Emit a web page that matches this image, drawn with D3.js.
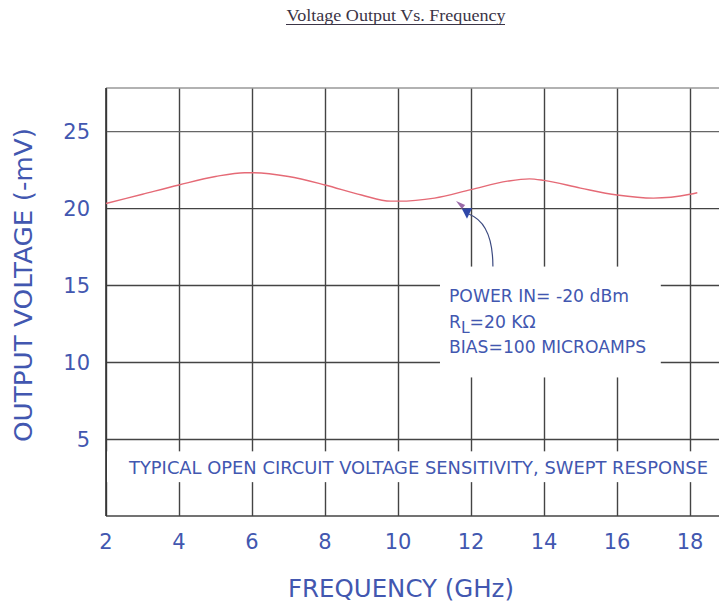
<!DOCTYPE html>
<html><head><meta charset="utf-8">
<script src="https://cdn.jsdelivr.net/npm/d3@7"></script>
<style>body{margin:0;background:#fff}svg{display:block}</style>
</head><body>
<script>
const freqGHz = [2, 3, 4, 5, 5.8, 6, 7, 8, 9, 9.8, 10, 11, 12, 13, 13.6, 14, 15, 16, 17, 18, 18.2];
const voltage = [20.3, 20.9, 21.5, 22.05, 22.3, 22.3, 22.05, 21.5, 20.85, 20.45, 20.45, 20.65, 21.2, 21.75, 21.9, 21.8, 21.3, 20.85, 20.65, 20.9, 21.0];
const xTicks = [2, 4, 6, 8, 10, 12, 14, 16, 18];
const yTicks = [5, 10, 15, 20, 25];
const titleText = "Voltage Output Vs. Frequency";
const xTitle = "FREQUENCY (GHz)";
const yTitle = "OUTPUT VOLTAGE (-mV)";
const noteLines = ["POWER IN= -20 dBm", "R|L|=20 KΩ", "BIAS=100 MICROAMPS"];
const bandText = "TYPICAL OPEN CIRCUIT VOLTAGE SENSITIVITY, SWEPT RESPONSE";

const W = 719, H = 605;
const blue = "#4257b0";
const svg = d3.select("body").append("svg").attr("width", W).attr("height", H);
svg.append("rect").attr("width", W).attr("height", H).attr("fill", "#fff");

const x = d3.scaleLinear().domain([2, 18]).range([106, 690]);
const y = d3.scaleLinear().domain([0, 27.8]).range([516, 88]);
const xRight = 719;

// grid via axes
const gx = svg.append("g").attr("transform", `translate(0,${y(0)})`)
  .call(d3.axisBottom(x).tickValues(xTicks).tickSize(-(y(0) - y(27.8))).tickFormat(""));
gx.select(".domain").remove();
gx.selectAll("line").attr("stroke", "#444").attr("stroke-width", 1.4);

const gy = svg.append("g").attr("transform", `translate(${x(2)},0)`)
  .call(d3.axisLeft(y).tickValues(yTicks).tickSize(-(xRight - x(2))).tickFormat(""));
gy.select(".domain").remove();
gy.selectAll("line").attr("stroke", "#444").attr("stroke-width", 1.4);
gy.selectAll(".tick").filter(d => d === 25).select("line").attr("stroke", "#666");

// frame: top, bottom
svg.append("line").attr("x1", x(2)).attr("x2", xRight).attr("y1", y(27.8)).attr("y2", y(27.8)).attr("stroke", "#999").attr("stroke-width", 1.6);
svg.append("line").attr("x1", x(2)).attr("x2", xRight).attr("y1", y(0)).attr("y2", y(0)).attr("stroke", "#444").attr("stroke-width", 1.6);

// white band for text and note box
svg.append("rect").attr("x", x(2) + 1).attr("y", y(4.2)).attr("width", xRight - x(2)).attr("height", y(2.2) - y(4.2)).attr("fill", "#fff");
svg.append("rect").attr("x", x(11.15)).attr("y", y(16.2)).attr("width", x(17.2) - x(11.15)).attr("height", y(9.0) - y(16.2)).attr("fill", "#fff");

svg.append("line").attr("x1", x(2)).attr("x2", x(2)).attr("y1", y(27.8)).attr("y2", y(0)).attr("stroke", "#333").attr("stroke-width", 1.6);

// curve
const line = d3.line().x((d, i) => x(freqGHz[i])).y(d => y(d)).curve(d3.curveMonotoneX);
svg.append("path").datum(voltage).attr("d", line).attr("fill", "none")
  .attr("stroke", "#e56a76").attr("stroke-width", 1.4);

// arrow
const arrowPath = d3.path();
arrowPath.moveTo(x(12.6), y(16.2));
arrowPath.quadraticCurveTo(x(12.6), y(19.0), x(11.95), y(19.6));
svg.append("path").attr("d", arrowPath.toString()).attr("fill", "none").attr("stroke", "#3c4a80").attr("stroke-width", 1.2);
const headPurple = [[11.59, 20.46], [11.84, 20.2], [11.75, 19.94]];
const headBlue = [[11.75, 19.95], [12.03, 20.0], [11.89, 19.3]];
svg.append("polygon").attr("points", headPurple.map(p => [x(p[0]), y(p[1])].join(",")).join(" ")).attr("fill", "#9a6aa8");
svg.append("polygon").attr("points", headBlue.map(p => [x(p[0]), y(p[1])].join(",")).join(" ")).attr("fill", "#2f47a8");

// axis tick labels
svg.append("g").selectAll("text").data(xTicks).join("text")
  .attr("x", d => x(d)).attr("y", 549).attr("text-anchor", "middle")
  .attr("font-family", "DejaVu Sans").attr("font-size", 21).attr("fill", blue).text(d => d);
svg.append("g").selectAll("text").data(yTicks).join("text")
  .attr("x", 90).attr("y", d => y(d) + 8).attr("text-anchor", "end")
  .attr("font-family", "DejaVu Sans").attr("font-size", 21).attr("fill", blue).text(d => d);

// axis titles
svg.append("text").attr("x", 401).attr("y", 597).attr("text-anchor", "middle")
  .attr("font-family", "DejaVu Sans").attr("font-size", 24).attr("fill", blue)
  .attr("textLength", 226).attr("lengthAdjust", "spacingAndGlyphs").text(xTitle);
svg.append("text").attr("transform", "translate(32,285) rotate(-90)").attr("text-anchor", "middle")
  .attr("font-family", "DejaVu Sans").attr("font-size", 24).attr("fill", blue)
  .attr("textLength", 314).attr("lengthAdjust", "spacingAndGlyphs").text(yTitle);

// title
svg.append("text").attr("x", 396).attr("y", 21).attr("text-anchor", "middle")
  .attr("font-family", "Liberation Serif").attr("font-size", 16).attr("fill", "#3b3446")
  .attr("textLength", 219).attr("lengthAdjust", "spacingAndGlyphs").text(titleText);
svg.append("line").attr("x1", 286).attr("x2", 505).attr("y1", 24.5).attr("y2", 24.5).attr("stroke", "#3b3446").attr("stroke-width", 1);

// band text
svg.append("text").attr("x", 129).attr("y", 474)
  .attr("font-family", "DejaVu Sans").attr("font-size", 17).attr("fill", blue)
  .attr("textLength", 579).attr("lengthAdjust", "spacingAndGlyphs").text(bandText);

// note text
const noteG = svg.append("g").attr("font-family", "DejaVu Sans").attr("font-size", 17.2).attr("fill", blue);
noteLines.forEach((t, i) => {
  const tx = noteG.append("text").attr("x", 449).attr("y", 302 + i * 25.5);
  if (t.includes("|")) {
    const parts = t.split("|");
    tx.append("tspan").text(parts[0]);
    tx.append("tspan").attr("dy", 5).attr("font-size", 15.5).text(parts[1]);
    tx.append("tspan").attr("dy", -5).text(parts[2]);
  } else {
    tx.text(t);
  }
});
</script>
</body></html>
